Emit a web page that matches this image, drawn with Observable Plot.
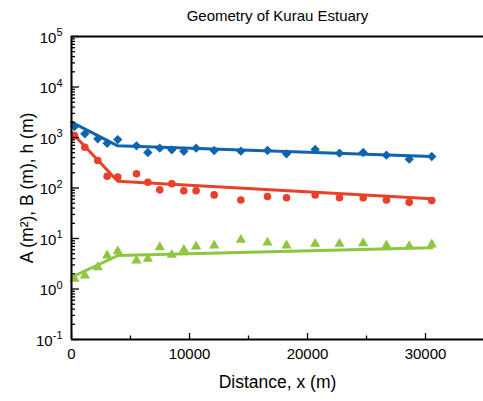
<!DOCTYPE html>
<html><head><meta charset="utf-8">
<script src="https://cdn.jsdelivr.net/npm/d3@7"></script>
<script src="https://cdn.jsdelivr.net/npm/@observablehq/plot@0.6"></script>
<style>
body{margin:0;background:#fff}
svg{font-family:"Liberation Sans",Arial,sans-serif}
</style>
</head><body><div id="c"></div>
<script>
const title = "Geometry of Kurau Estuary";
const xLabel = "Distance, x (m)";
const yLabel = "A (m²), B (m), h (m)";
const distance = [254,1130,2230,3020,3920,5510,6470,7480,8500,9520,10560,12090,14350,16610,18220,20650,22710,24720,26690,28620,30530];
const areaA = [1650,1180,940,770,910,685,505,615,570,535,615,553,536,553,475,578,490,505,447,372,421];
const widthB = [1096,643,351,171,164,191,130,92,121,88,88,73,58,68,64,73,64,64,58,52,56.5];
const depthH = [1.59,1.85,2.7,4.6,5.6,3.66,3.96,6.7,4.75,5.97,6.95,7.27,9.4,8.3,7.27,7.85,7.85,8.07,7.27,7.05,7.6];
const fitX = [0,3920,30530];
const fitA = [2010,685,421];
const fitB = [1270,136,61];
const fitH = [1.71,4.6,6.55];
const xMajor = [0,10000,20000,30000];
const xMinor = [5000,15000,25000];
const yMajor = [0.1,1,10,100,1000,10000,100000];
const yMinor = [];
for (const d of [0.1,1,10,100,1000,10000]) for (let k=2;k<=9;k++) yMinor.push(d*k);

const colA = "#0f64ae", colB = "#e8402a", colH = "#8dc63f";
const W=483,H=401,mt=36,mb=62,ml=71,mr=0;
const ph=H-mt-mb, pw=W-ml-mr;
const pts = distance.map((x,i)=>({x,a:areaA[i],b:widthB[i],h:depthH[i]}));
const fit = fitX.map((x,i)=>({x,a:fitA[i],b:fitB[i],h:fitH[i]}));

const chart = Plot.plot({
  width:W,height:H,marginTop:mt,marginBottom:mb,marginLeft:ml,marginRight:mr,
  style:{fontFamily:'"Liberation Sans",Arial,sans-serif',background:"white",color:"black"},
  x:{domain:[0,34915]},
  y:{type:"log",domain:[0.1,1e5]},
  marks:[
    Plot.line(fit,{x:"x",y:"a",stroke:colA,strokeWidth:3}),
    Plot.line(fit,{x:"x",y:"b",stroke:colB,strokeWidth:3}),
    Plot.line(fit,{x:"x",y:"h",stroke:colH,strokeWidth:3}),
    Plot.dot(pts,{x:"x",y:"a",symbol:"diamond2",r:4.2,fill:colA}),
    Plot.dot(pts,{x:"x",y:"b",symbol:"circle",r:3.8,fill:colB}),
    Plot.dot(pts,{x:"x",y:"h",symbol:"triangle",r:3.8,fill:colH}),
    Plot.ruleX(xMajor,{x:d=>d,insetTop:ph-6,stroke:"black",strokeWidth:1.3}),
    Plot.ruleX(xMinor,{x:d=>d,insetTop:ph-3.5,stroke:"black",strokeWidth:1.3}),
    Plot.ruleY(yMajor,{y:d=>d,insetRight:pw-8,stroke:"black",strokeWidth:1.3}),
    Plot.ruleY(yMinor,{y:d=>d,insetRight:pw-4,stroke:"black",strokeWidth:1.3}),
    Plot.ruleY([1e5],{stroke:"black",strokeWidth:2}),
    Plot.ruleY([0.1],{stroke:"black",strokeWidth:2}),
    Plot.ruleX([0],{stroke:"black",strokeWidth:2}),
    Plot.axisX({ticks:xMajor,tickSize:0,tickPadding:9,tickFormat:d=>String(d),fontSize:15,label:null}),
    Plot.axisY({ticks:yMajor,tickSize:0,tickPadding:9,dy:1.5,tickFormat:d=>"10^"+Math.round(Math.log10(d)),fontSize:15,label:null}),
    Plot.text([title],{frameAnchor:"top",dy:-20,fontSize:15,lineAnchor:"middle",fill:"black"}),
    Plot.text([xLabel],{frameAnchor:"bottom",dy:43,fontSize:17.5,lineAnchor:"middle",fill:"black"}),
    Plot.text([yLabel],{frameAnchor:"left",dx:-44,rotate:-90,fontSize:17.5,lineAnchor:"middle",textAnchor:"middle",fill:"black"})
  ]
});
chart.querySelectorAll('g[aria-label="y-axis tick label"] text').forEach(t=>{
  const s=t.textContent; if(!s.includes("^")) return;
  const e=s.split("^")[1];
  t.textContent="10";
  const ts=document.createElementNS("http://www.w3.org/2000/svg","tspan");
  ts.setAttribute("dy","-0.6em"); ts.setAttribute("font-size","11");
  ts.textContent=e; t.appendChild(ts);
});
document.getElementById("c").appendChild(chart);
</script>
</body></html>
